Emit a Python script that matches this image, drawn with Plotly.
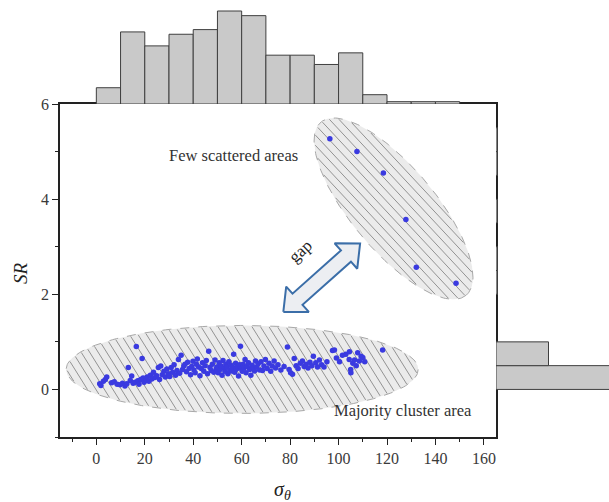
import numpy as np
import plotly.graph_objects as go

# ---------------- data ----------------
# main scatter: sigma_theta vs SR
sigma_theta = [
    1.4, 1.9, 2.9, 3.7, 4.3, 6.3, 7.4, 8.6, 9.8,
    10.8, 11.8, 12.6, 13.2, 14.0, 14.6, 15.2, 16.0, 16.5, 17.1, 17.6, 18.3, 18.9, 19.3, 19.7,
    20.4, 21.0, 21.7, 22.3, 22.9, 23.6, 24.2, 24.9, 25.6, 26.1, 26.6, 27.2, 27.9, 28.5, 29.1, 29.7,
    30.3, 30.9, 31.5, 32.1, 32.7, 33.3, 33.9, 34.4, 35.0, 35.6, 36.1, 36.6, 37.2, 37.7, 38.3, 38.9, 39.4, 39.9,
    40.3, 40.8, 41.3, 41.7, 42.2, 42.8, 43.3, 43.8, 44.4, 44.9, 45.4, 45.9, 46.4, 46.9, 47.4, 47.9, 48.5, 49.0, 49.5, 49.9,
    50.3, 50.7, 51.1, 51.5, 51.9, 52.3, 52.7, 53.1, 53.5, 53.9, 54.3, 54.7, 55.1, 55.5, 55.9, 56.3, 56.7, 57.1, 57.5, 57.9,
    58.3, 58.7, 59.1, 59.5, 59.8,
    60.2, 60.6, 61.0, 61.4, 61.8, 62.3, 62.8, 63.3, 63.8, 64.3, 64.8, 65.3, 65.7, 66.2, 66.8, 67.4, 68.0, 68.6, 69.2, 69.8,
    70.5, 71.3, 72.0, 72.6, 73.4, 74.0, 75.0, 76.2, 77.5, 78.9, 79.6,
    80.2, 81.0, 81.7, 82.5, 83.3, 84.2, 85.1, 85.8, 86.6, 87.4, 88.2, 89.0, 89.6,
    90.6, 91.3, 92.1, 93.0, 94.0, 95.2, 97.5, 98.3, 99.1,
    100.4, 101.6, 103.0, 104.4, 104.5, 105.0, 105.1, 105.9, 106.6, 107.3, 107.9, 108.6, 109.3,
    110.0, 110.8, 118.2,
    96.4, 107.6, 118.5, 127.8, 132.1, 148.5,
]
sr = [
    0.12, 0.08, 0.17, 0.21, 0.26, 0.14, 0.16, 0.11, 0.10,
    0.13, 0.07, 0.12, 0.46, 0.19, 0.28, 0.13, 0.15, 0.90, 0.18, 0.11, 0.21, 0.65, 0.24, 0.15,
    0.19, 0.26, 0.17, 0.30, 0.22, 0.36, 0.25, 0.29, 0.46, 0.21, 0.49, 0.31, 0.38, 0.26, 0.43, 0.33,
    0.27, 0.46, 0.36, 0.52, 0.30, 0.40, 0.63, 0.34, 0.72, 0.42, 0.49, 0.53, 0.37, 0.57, 0.44, 0.31, 0.48, 0.59,
    0.41, 0.35, 0.53, 0.64, 0.47, 0.29, 0.44, 0.56, 0.38, 0.50, 0.61, 0.33, 0.80, 0.46, 0.40, 0.53, 0.36, 0.62, 0.44, 0.47,
    0.35, 0.56, 0.42, 0.49, 0.30, 0.61, 0.45, 0.38, 0.53, 0.47, 0.33, 0.58, 0.41, 0.51, 0.39, 0.46, 0.74, 0.36, 0.55, 0.43,
    0.49, 0.28, 0.52, 0.91, 0.44,
    0.38, 0.53, 0.45, 0.63, 0.35, 0.48, 0.56, 0.42, 0.30, 0.51, 0.45, 0.39, 0.60, 0.47, 0.54, 0.41, 0.58, 0.40, 0.49, 0.63,
    0.44, 0.55, 0.38, 0.49, 0.60, 0.45, 0.52, 0.41, 0.48, 0.89, 0.42,
    0.35, 0.32, 0.65, 0.50, 0.44, 0.55, 0.60, 0.48, 0.53, 0.45, 0.57, 0.50, 0.70,
    0.56, 0.47, 0.62, 0.52, 0.47, 0.58, 0.82, 0.83, 0.66,
    0.58, 0.72, 0.74, 0.63, 0.79, 0.42, 0.35, 0.55, 0.62, 0.50, 0.77, 0.60, 0.70,
    0.67, 0.58, 0.83,
    5.27, 5.00, 4.55, 3.57, 2.57, 2.23,
]

# marginal histogram of sigma_theta (bin width 10, starting at 0)
sigma_bin_left = [0, 10, 20, 30, 40, 50, 60, 70, 80, 90, 100, 110, 120, 130, 140]
sigma_counts = [7, 31, 25, 30, 32, 40, 38, 21, 21, 17, 22, 4, 1, 1, 1]

# marginal histogram of SR (bin width 0.5, starting at 0)
sr_bin_low = [0.0, 0.5, 2.0, 2.5, 3.5, 4.5, 5.0]
sr_counts = [160, 35, 1, 1, 1, 1, 1]

x_ticks = [0, 20, 40, 60, 80, 100, 120, 140, 160]
y_ticks = [0, 2, 4, 6]

# ---------------- layout geometry ----------------
W, H = 609, 502
PL, PR, PT, PB = 60, 496, 104, 437          # main plot box (px)
X_RANGE = [-15, 165]
Y_RANGE = [-1, 6]
SX = (PR - PL) / (X_RANGE[1] - X_RANGE[0])   # px per x unit
SY = (PB - PT) / (Y_RANGE[1] - Y_RANGE[0])   # px per y unit

FONT = "Liberation Serif"


def off_to_data(cx, cy, dx, dy):
    """Pixel offsets (screen: y down) around a data point -> data coords."""
    return cx + np.asarray(dx) / SX, cy - np.asarray(dy) / SY


def ellipse(cx, cy, a, b, theta_deg, n=200):
    t = np.linspace(0, 2 * np.pi, n)
    th = np.radians(theta_deg)
    dx = a * np.cos(t) * np.cos(th) - b * np.sin(t) * np.sin(th)
    dy = a * np.cos(t) * np.sin(th) + b * np.sin(t) * np.cos(th)
    return off_to_data(cx, cy, dx, dy)


def hatch(cx, cy, a, b, theta_deg, phi_deg, spacing):
    th, ph = np.radians(theta_deg), np.radians(phi_deg)
    e1 = np.array([np.cos(th), np.sin(th)])
    e2 = np.array([-np.sin(th), np.cos(th)])
    u = np.array([np.cos(ph), np.sin(ph)])
    nv = np.array([-np.sin(ph), np.cos(ph)])
    xs, ys = [], []
    for s in np.arange(-a, a + spacing, spacing):
        A, B = s * nv @ e1, u @ e1
        C, D = s * nv @ e2, u @ e2
        qa = B * B / a**2 + D * D / b**2
        qb = 2 * (A * B / a**2 + C * D / b**2)
        qc = A * A / a**2 + C * C / b**2 - 1
        disc = qb * qb - 4 * qa * qc
        if disc <= 0:
            continue
        r = np.sqrt(disc)
        for t in ((-qb - r) / (2 * qa), (-qb + r) / (2 * qa)):
            p = s * nv + t * u
            X, Y = off_to_data(cx, cy, p[0], p[1])
            xs.append(float(X)); ys.append(float(Y))
        xs.append(None); ys.append(None)
    return xs, ys


def double_arrow(x1, y1, x2, y2, head_len=18, head_w=16, shaft_w=7):
    # geometry in screen pixels relative to first tip
    vx, vy = (x2 - x1) * SX, -(y2 - y1) * SY
    L = np.hypot(vx, vy)
    u = np.array([vx, vy]) / L
    n = np.array([-u[1], u[0]])
    pts = [(0, 0), (head_len, head_w), (head_len, shaft_w), (L - head_len, shaft_w),
           (L - head_len, head_w), (L, 0), (L - head_len, -head_w), (L - head_len, -shaft_w),
           (head_len, -shaft_w), (head_len, -head_w), (0, 0)]
    dx = [p * u[0] + q * n[0] for p, q in pts]
    dy = [p * u[1] + q * n[1] for p, q in pts]
    return off_to_data(x1, y1, dx, dy)


fig = go.Figure()

# ---- region ellipses (fill, hatching, dashed outline) ----
regions = [
    # cx, cy, semi-major px, semi-minor px, tilt deg, hatch angle deg, hatch spacing px
    (60.2, 0.42, 176, 44, 0, 58, 7.2),
    (122.7, 3.80, 113, 42, 50, 47, 7.0),
]
for cx, cy, a, b, th, ph, sp in regions:
    ex, ey = ellipse(cx, cy, a, b, th)
    fig.add_trace(go.Scatter(x=ex, y=ey, mode="lines", fill="toself",
                             fillcolor="#ebebeb",
                             line=dict(color="#a8a8a8", width=1, dash="dash"),
                             hoverinfo="skip", showlegend=False))
    hx, hy = hatch(cx, cy, a - 1, b - 1, th, ph, sp)
    fig.add_trace(go.Scatter(x=hx, y=hy, mode="lines",
                             line=dict(color="#939393", width=1),
                             hoverinfo="skip", showlegend=False))

# ---- "gap" double arrow ----
ax_, ay_ = double_arrow(77.2, 1.63, 108.9, 3.07, head_len=19, head_w=17, shaft_w=7.5)
fig.add_trace(go.Scatter(x=ax_, y=ay_, mode="lines", fill="toself",
                         fillcolor="#eceef2", line=dict(color="#3b6ea8", width=2),
                         hoverinfo="skip", showlegend=False))

# ---- scatter points ----
fig.add_trace(go.Scatter(x=sigma_theta, y=sr, mode="markers",
                         marker=dict(size=5.5, color="#3a3ae0"),
                         showlegend=False))

# ---- marginal histograms ----
fig.add_trace(go.Bar(x=[v + 5 for v in sigma_bin_left], y=sigma_counts, width=10,
                     marker=dict(color="#c9c9c9", line=dict(color="#3f3f3f", width=1)),
                     xaxis="x2", yaxis="y2", showlegend=False))
fig.add_trace(go.Bar(y=[v + 0.25 for v in sr_bin_low], x=sr_counts, width=0.5, orientation="h",
                     marker=dict(color="#c9c9c9", line=dict(color="#3f3f3f", width=1)),
                     xaxis="x3", yaxis="y3", showlegend=False))

# ---- annotations ----
txt = dict(family=FONT, size=16.5, color="#333333")
fig.add_annotation(x=56.8, y=4.91, xref="x", yref="y", text="Few scattered areas",
                   showarrow=False, font=txt, xanchor="center", yanchor="middle")
fig.add_annotation(x=126.4, y=-0.45, xref="x", yref="y", text="Majority cluster area",
                   showarrow=False, font=txt, xanchor="center", yanchor="middle")
fig.add_annotation(x=84.1, y=2.91, xref="x", yref="y", text="gap", textangle=-43,
                   showarrow=False, font=dict(family=FONT, size=17, color="#222222"),
                   xanchor="center", yanchor="middle")
fig.add_annotation(x=20 / W, y=1 - 273 / H, xref="paper", yref="paper",
                   text="<i>SR</i>", textangle=-90, showarrow=False,
                   xanchor="center", yanchor="middle",
                   font=dict(family=FONT, size=19, color="#222222"))
fig.add_annotation(x=282 / W, y=1 - 490 / H, xref="paper", yref="paper",
                   text="<i>σ</i><sub><i>θ</i></sub>", showarrow=False,
                   xanchor="center", yanchor="middle",
                   font=dict(family=FONT, size=20, color="#222222"))

xdom = [PL / W, PR / W]
ydom = [1 - PB / H, 1 - PT / H]
tickfont = dict(family=FONT, size=16, color="#3a3a3a")

fig.update_layout(
    width=W, height=H,
    margin=dict(l=0, r=0, t=0, b=0, autoexpand=False),
    paper_bgcolor="white", plot_bgcolor="white",
    showlegend=False,
    xaxis=dict(domain=xdom, range=X_RANGE, anchor="y", automargin=False,
               tickmode="array", tickvals=x_ticks,
               ticks="outside", ticklen=6, tickwidth=1.2, tickcolor="#222",
               minor=dict(dtick=10, tick0=0, ticks="outside", ticklen=3, tickcolor="#222"),
               showline=True, linecolor="#222", linewidth=1.5, mirror=True,
               showgrid=False, zeroline=False, tickfont=tickfont),
    yaxis=dict(domain=ydom, range=Y_RANGE, anchor="x", automargin=False,
               tickmode="array", tickvals=y_ticks,
               ticks="outside", ticklen=6, tickwidth=1.2, tickcolor="#222",
               minor=dict(dtick=1, tick0=0, ticks="outside", ticklen=3, tickcolor="#222"),
               showline=True, linecolor="#222", linewidth=1.5, mirror=True,
               showgrid=False, zeroline=False, tickfont=tickfont),
    xaxis2=dict(domain=xdom, matches="x", anchor="y2", visible=False),
    yaxis2=dict(domain=[1 - PT / H, 1], range=[0, PT / (93 / 40)], anchor="x2", visible=False),
    xaxis3=dict(domain=[PR / W, 1], range=[0, (W - PR) / 1.5], anchor="y3", visible=False),
    yaxis3=dict(domain=ydom, matches="y", anchor="x3", visible=False),
)

fig.write_html("out.html")
